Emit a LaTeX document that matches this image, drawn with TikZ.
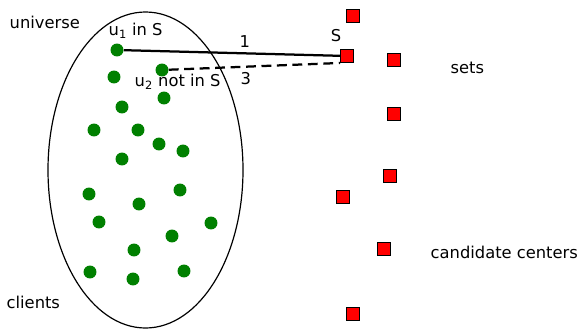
\documentclass[tikz,border=0pt]{standalone}
\usepackage{fontspec}
\setmainfont{DejaVu Sans}
\usetikzlibrary{positioning,shapes.geometric}

\begin{document}
\begin{tikzpicture}[x=0.025cm,y=-0.025cm]
  \tikzstyle{client}=[circle,inner sep=0pt,minimum size=13pt*0.709,fill=green!50!black]
  \tikzstyle{facility}=[rectangle,inner sep=0pt,minimum size=13pt*0.709,draw=black,line width=0.7pt,fill=red]
  \tikzstyle{lab}=[font=\fontsize{11.6pt}{14pt}\selectfont,inner sep=1pt]
  \tikzstyle{dist}=[line width=1.6pt]
  \useasboundingbox (0,0) rectangle (585,329);
  % the universe of clients
  \node [draw,ellipse,inner sep=0pt,line width=0.85pt,minimum width=195*0.025cm,minimum height=316*0.025cm] (universe) at (145.5,170) {} ;
  \foreach \x/\y [count=\i] in {117/50,114/77,162/70,164/98,122/107,94/130,138/130,159/144,
      183/151,122/159,89/194,180/190,139/204,99/222,211/223,172/236,134/250,90/272,133/279,184/271}
    \node [client] (c\i) at (\x,\y) {} ;
  % candidate centers
  \node [facility] (S) at (347,56) {} ;
  \node [facility] (f1) at (353,16) {} ;
  \node [facility] (f2) at (394,60) {} ;
  \node [facility] (f3) at (394,114) {} ;
  \node [facility] (f4) at (390,176) {} ;
  \node [facility] (f5) at (343,197) {} ;
  \node [facility] (f6) at (384,249) {} ;
  \node [facility] (f7) at (353,314) {} ;
  % labels
  \node [lab,anchor=west] (univlab) at (8,22) {universe} ;
  \node [lab,anchor=west] (clientlab) at (5,302) {clients} ;
  \node [lab,anchor=west] (setslab) at (449,68) {sets} ;
  \node [lab,anchor=west] (candlab) at (429,252) {candidate centers} ;
  \node [lab] (slab) at (336,36) {S} ;
  \node [lab,anchor=west] (u1lab) at (107,31) {u\textsubscript{1} in S} ;
  \node [lab,anchor=west] (u2lab) at (133,82) {u\textsubscript{2} not in S} ;
  % distances
  \draw [dist] (c1) -- node[lab,above=2pt,pos=0.56] {1} (S) ;
  \draw [dist,dash pattern=on 7pt off 4pt] (c3) -- node[lab,below=2pt,pos=0.45] {3} (S.south west) ;
\end{tikzpicture}
\end{document}
